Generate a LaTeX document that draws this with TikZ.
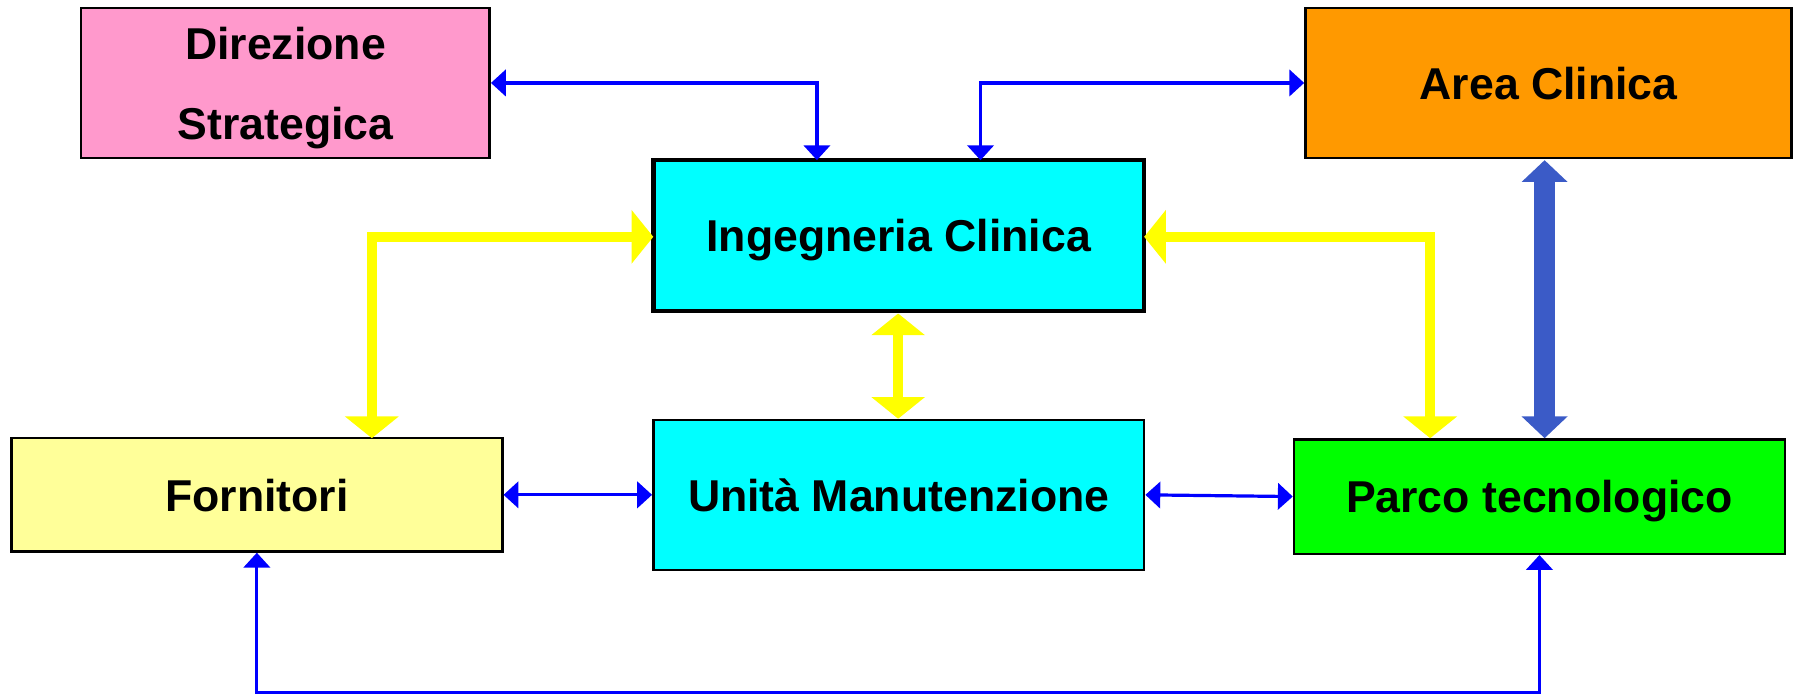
\documentclass[tikz,border=0pt]{standalone}
\usepackage{fontspec}
\setmainfont{Liberation Sans}
\usetikzlibrary{arrows.meta}
\definecolor{pinkbox}{HTML}{FF99CC}
\definecolor{orangebox}{HTML}{FF9900}
\definecolor{cyanbox}{HTML}{00FFFF}
\definecolor{ltyellow}{HTML}{FFFF99}
\definecolor{greenbox}{HTML}{00FF00}
\definecolor{yel}{HTML}{FFFF00}
\definecolor{blu}{HTML}{0000FF}
\definecolor{royal}{RGB}{59,91,199}
\tikzset{
  box/.style={draw=black, line width=2.2pt, rectangle, inner sep=0pt, align=center,
    text depth=0pt, font=\fontsize{39}{70}\selectfont\bfseries},
  thinblue/.style={draw=blu, line width=2.8pt,
    {Triangle[width=23pt,length=13pt]}-{Triangle[width=23pt,length=13pt]}},
  yelarrow/.style={draw=yel, line width=9pt,
    {Triangle[width=46pt,length=19pt]}-{Triangle[width=46pt,length=19pt]}},
  royalarrow/.style={draw=royal, line width=19pt,
    {Triangle[width=39pt,length=19pt]}-{Triangle[width=39pt,length=19pt]}}
}
\begin{document}
\begin{tikzpicture}[x=1pt,y=-1pt]
\useasboundingbox (0,0) rectangle (1568,606.6);
% boxes
\node[box, fill=pinkbox, minimum width=357pt, minimum height=131pt] (dir) at (249.5,72.5) {Direzione\\Strategica};
\node[box, fill=orangebox, minimum width=425pt, minimum height=131pt] (area) at (1353.5,72.5) {Area Clinica};
\node[box, fill=cyanbox, line width=4pt, minimum width=429pt, minimum height=132pt] (ing) at (785.5,206) {Ingegneria Clinica};
\node[box, fill=ltyellow, minimum width=429pt, minimum height=99pt] (forn) at (224.5,432.5) {Fornitori};
\node[box, fill=cyanbox, minimum width=429pt, minimum height=131pt] (unit) at (785.5,432.5) {Unità Manutenzione};
\node[box, fill=greenbox, minimum width=429pt, minimum height=100pt] (parco) at (1345.5,434) {Parco tecnologico};
% coordinates
\coordinate (ingA) at (714,140);
\coordinate (ingB) at (857,140);
\coordinate (ingL) at (571,207);
\coordinate (ingR) at (1000,207);
\coordinate (fornT) at (325,383);
\coordinate (parcoT) at (1250,383);
\coordinate (ingBot) at (785,274);
\coordinate (unitTop) at (785,366);
\coordinate (areaBot) at (1350,140);
\coordinate (parcoTop2) at (1350,383);
% thin blue connectors
\draw[thinblue] (dir.east) -| (ingA);
\draw[thinblue] (ingB) |- (area.west);
\draw[thinblue] (forn.east) -- (unit.west);
\draw[thinblue] (unit.east) -- (parco.west);
\draw[thinblue] (forn.south) -- (224.5,605) -| (parco.south);
% yellow connectors
\draw[yelarrow] (ingL) -| (fornT);
\draw[yelarrow] (ingR) -| (parcoT);
\draw[yelarrow] (ingBot) -- (unitTop);
% royal blue
\draw[royalarrow] (areaBot) -- (parcoTop2);
\end{tikzpicture}
\end{document}
